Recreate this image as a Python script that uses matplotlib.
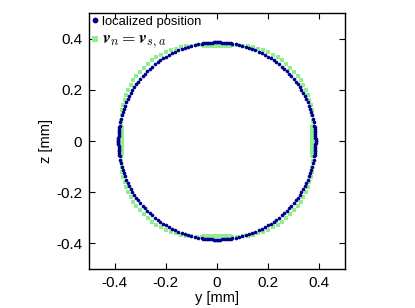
import numpy as np
import matplotlib
matplotlib.use("Agg")
import matplotlib.pyplot as plt

plt.rcParams['font.family'] = ['Liberation Sans', 'DejaVu Sans']
plt.rcParams['mathtext.fontset'] = 'cm'

# first-quadrant samples (angle in degrees, radius in mm), mirrored to all quadrants
BLUE_ANG = [0, 1, 2, 3, 4, 5, 6, 7, 8, 9, 11, 13, 15, 17, 19, 21, 23, 25, 27,
            29, 31, 33, 35, 37, 39, 41, 43, 45, 47, 49, 51, 53, 55, 57, 59, 61,
            63, 65, 67, 69, 71, 73, 75, 77, 79, 81, 82, 83, 84, 85, 86, 87, 88,
            89, 90]
BLUE_R = 0.385

GREEN_ANG = [0, 0.75, 1.5, 2.25, 3, 3.75, 4.5, 5.25, 6, 6.75, 7.5, 8.25, 9,
             12, 15, 18, 21, 24, 27, 30, 33, 36, 39, 42, 45,
             48, 51, 54, 57, 60, 63, 66, 69, 72, 75, 78,
             81, 81.75, 82.5, 83.25, 84, 84.75, 85.5, 86.25, 87, 87.75, 88.5,
             89.25, 90]
GREEN_R = [0.372, 0.372, 0.372, 0.372, 0.373, 0.373, 0.374, 0.374, 0.375,
           0.375, 0.376, 0.377, 0.378,
           0.382, 0.386, 0.389, 0.392, 0.395, 0.398, 0.400, 0.402, 0.404,
           0.405, 0.405, 0.405,
           0.405, 0.405, 0.404, 0.402, 0.400, 0.398, 0.395, 0.392, 0.389,
           0.386, 0.382,
           0.378, 0.377, 0.376, 0.375, 0.375, 0.374, 0.374, 0.373, 0.373,
           0.372, 0.372, 0.372, 0.372]

XTICKS = [-0.4, -0.2, 0, 0.2, 0.4]
YTICKS = [-0.4, -0.2, 0, 0.2, 0.4]


def mirror(ang, r):
    ang = np.radians(np.asarray(ang, dtype=float))
    r = np.broadcast_to(np.asarray(r, dtype=float), ang.shape)
    xs, ys = [], []
    for sx in (1, -1):
        for sy in (1, -1):
            xs.append(sx * r * np.cos(ang))
            ys.append(sy * r * np.sin(ang))
    return np.concatenate(xs), np.concatenate(ys)


bx, by = mirror(BLUE_ANG, BLUE_R)
gx, gy = mirror(GREEN_ANG, GREEN_R)

fig = plt.figure(figsize=(4.15, 3.08), dpi=100)
ax = fig.add_axes([0.2096, 0.1266, 0.6265, 0.8312])

ax.plot(gx, gy, 's', color='#90EE90', ms=2.3, mew=0, label=r'$\mathbfit{v}_n = \mathbfit{v}_{s,a}$')
ax.plot(bx, by, 'o', color='#00008B', ms=2.6, mew=0, label='localized position')

ax.set_xlim(-0.5, 0.5)
ax.set_ylim(-0.5, 0.5)
ax.set_aspect('equal')
ax.set_xticks(XTICKS)
ax.set_yticks(YTICKS)
ax.set_xticklabels(['-0.4', '-0.2', '0', '0.2', '0.4'])
ax.set_yticklabels(['-0.4', '-0.2', '0', '0.2', '0.4'])
ax.tick_params(direction='in', length=4, width=0.8, top=True, right=True,
               labelsize=11, pad=5)
for s in ax.spines.values():
    s.set_linewidth(1.0)
ax.set_xlabel('y [mm]', fontsize=10.5, labelpad=1)
ax.set_ylabel('z [mm]', fontsize=10.5, labelpad=2)

h, l = ax.get_legend_handles_labels()
leg = ax.legend(h[::-1], l[::-1], loc='upper left', frameon=False,
                handlelength=0.5, handletextpad=0.3, borderaxespad=0.1,
                borderpad=0.1, labelspacing=0.3, markerscale=1.6,
                fontsize=9.4)
leg.get_texts()[1].set_fontsize(12.5)

fig.savefig('out.png', dpi=100)
